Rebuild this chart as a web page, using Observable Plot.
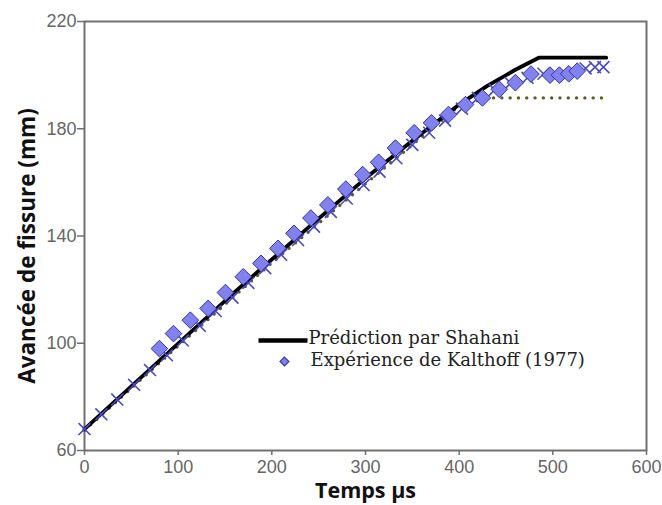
<!DOCTYPE html>
<html>
<head>
<meta charset="utf-8">
<script src="https://cdn.jsdelivr.net/npm/d3@7"></script>
<script src="https://cdn.jsdelivr.net/npm/@observablehq/plot@0.6"></script>
<style>
  body { margin: 0; background: #fff; }
  #chart svg { display: block; }
</style>
</head>
<body>
<div id="chart"></div>
<script>
// Shahani's prediction (solid black curve)
const shahaniTime = [0, 80, 160, 240, 300, 350, 400, 430, 460, 485, 557];
const shahaniCrack = [68, 93.5, 119, 143.5, 161.5, 175.5, 189, 196, 202, 206.5, 206.5];

// Kalthoff (1977) experiment (filled diamonds)
const kalthoffTime = [80, 95, 113, 132, 150.5, 169.5, 188.4, 206.5, 223.7, 241.7, 259.8, 279, 297, 314, 332, 352, 370.5, 388.6, 406.7, 424.8, 442.8, 460, 476.7, 497, 507, 517, 526];
const kalthoffCrack = [98, 103.6, 108.6, 113, 118.9, 124.8, 129.8, 135.4, 141, 146.7, 151.6, 157.5, 162.9, 167.5, 172.8, 178.5, 182.2, 185.3, 189, 191.5, 194.7, 197.2, 200.4, 200, 200, 200.5, 201.5];

// Second simulated series (x markers)
const crossTime = [0, 18, 35, 53, 70, 88, 105, 123, 140, 158, 175, 193, 210, 228, 245, 263, 280, 298, 315, 333, 350, 368, 385, 403, 420, 438, 455, 473, 490, 535, 545, 554];
const crossCrack = [68, 73.5, 79, 84.5, 90, 95.5, 101, 106.5, 112, 117, 122.5, 128, 133, 138.5, 143.5, 149, 154, 159, 164, 169, 174, 178.5, 183, 187.5, 191.5, 194.5, 197, 199, 200.5, 202.5, 203, 203];

// Third series (dotted olive line with early plateau)
const dottedTime = [0, 100, 200, 300, 400, 430, 552];
const dottedCrack = [67.5, 99, 130, 159.5, 188.5, 191.5, 191.5];

const xTicks = [0, 100, 200, 300, 400, 500, 600];
const yTicks = [60, 100, 140, 180, 220];

const legendLabels = ["Prédiction par Shahani", "Expérience de Kalthoff (1977)"];
const xTitle = "Temps µs";
const yTitle = "Avancée de fissure (mm)";

const zip = (ts, vs) => ts.map((t, i) => ({t, v: vs[i]}));
const shahani = zip(shahaniTime, shahaniCrack);
const kalthoff = zip(kalthoffTime, kalthoffCrack);
const crosses = zip(crossTime, crossCrack);
const dotted = zip(dottedTime, dottedCrack);

// horizontal bar used as the legend key for the solid line
const barSymbol = {
  draw(context) {
    context.moveTo(-24.5, 0);
    context.lineTo(24.5, 0);
  }
};

const legendFont = {textAnchor: "start", lineAnchor: "middle", fontSize: 18, fill: "#222",
  fontFamily: "DejaVu Serif, Liberation Serif, serif"};
const titleFont = {fontWeight: "bold", fill: "#111",
  fontFamily: "Open Sans, DejaVu Sans, sans-serif", textAnchor: "middle", lineAnchor: "middle"};

const chart = Plot.plot({
  width: 662,
  height: 505,
  marginLeft: 84,
  marginRight: 16,
  marginTop: 21,
  marginBottom: 55,
  style: {background: "#fff"},
  x: {domain: [0, 600]},
  y: {domain: [60, 220]},
  marks: [
    Plot.axisX({ticks: xTicks, tickSize: 5, tickPadding: 5, stroke: "#707070", strokeWidth: 1.5,
      fill: "#666", fontSize: 18, fontFamily: "Liberation Sans, Arial, sans-serif", label: null}),
    Plot.axisY({ticks: yTicks, tickSize: 7, tickPadding: 1, stroke: "#707070", strokeWidth: 1.5,
      fill: "#666", fontSize: 18, fontFamily: "Liberation Sans, Arial, sans-serif", label: null}),
    Plot.frame({stroke: "#707070", strokeWidth: 2}),
    Plot.line(dotted, {x: "t", y: "v", stroke: "#5e5a24", strokeWidth: 3.4,
      strokeDasharray: "0 8.3", strokeLinecap: "round"}),
    Plot.line(shahani, {x: "t", y: "v", stroke: "#000", strokeWidth: 3.8}),
    Plot.dot(crosses, {x: "t", y: "v", symbol: "times", r: 5.5, stroke: "#4a4ac4", strokeWidth: 1.6}),
    Plot.dot(kalthoff, {x: "t", y: "v", symbol: "diamond2", r: 7.5, fill: "#8282ee",
      stroke: "#3434a8", strokeWidth: 1}),
    // legend
    Plot.dot([legendLabels[0]], {frameAnchor: "top-left", dx: 198.5, dy: 319, symbol: barSymbol,
      stroke: "#000", strokeWidth: 4.5}),
    Plot.dot([legendLabels[1]], {frameAnchor: "top-left", dx: 200, dy: 340, symbol: "diamond2", r: 4,
      fill: "#8282ee", stroke: "#3a3aa0", strokeWidth: 1.2}),
    Plot.text([legendLabels[0]], {frameAnchor: "top-left", dx: 224, dy: 317, text: d => d, ...legendFont}),
    Plot.text([legendLabels[1]], {frameAnchor: "top-left", dx: 226, dy: 339, text: d => d, ...legendFont}),
    // axis titles
    Plot.text([xTitle], {frameAnchor: "bottom", dy: 41, fontSize: 21.5, text: d => d, ...titleFont}),
    Plot.text([yTitle], {frameAnchor: "left", dx: -57, dy: 10, rotate: -90, fontSize: 22.5,
      text: d => d, ...titleFont})
  ]
});

document.getElementById("chart").appendChild(chart);
</script>
</body>
</html>
